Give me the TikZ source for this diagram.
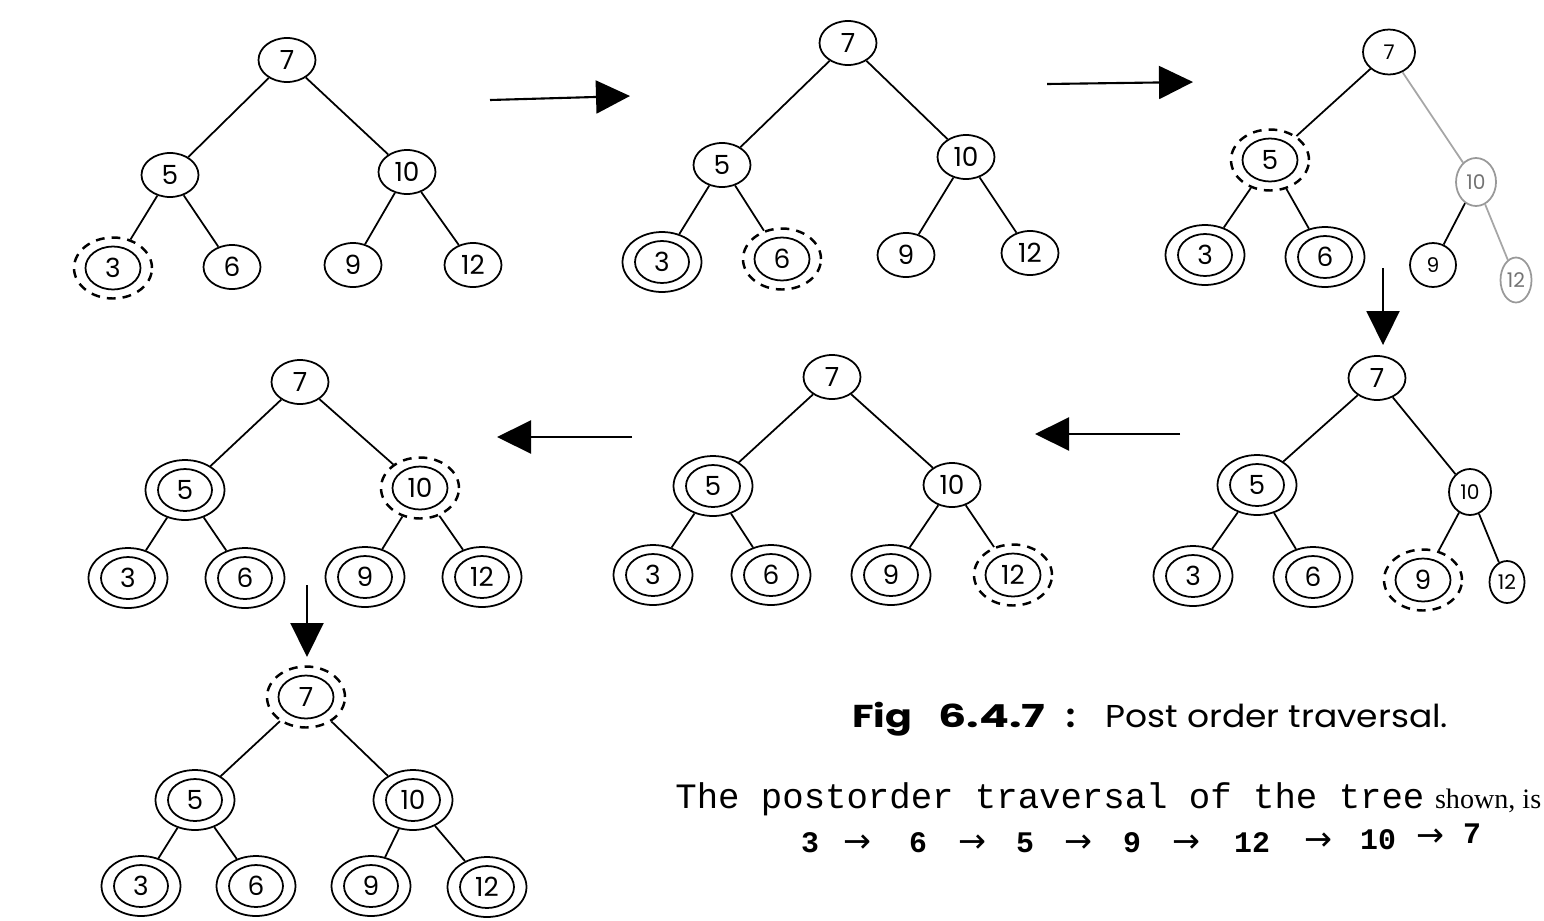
\documentclass[tikz,border=0pt]{standalone}
\usepackage{fontspec}
\setmainfont{Poppins}
\newfontfamily\monofont{Liberation Mono}
\newfontfamily\serifont{Liberation Serif}
\newfontfamily\arrowfont{DejaVu Sans}
\usetikzlibrary{shapes.geometric,arrows.meta}
\tikzset{
  nd/.style={ellipse, draw, line width=1pt, minimum width=1.14cm, minimum height=0.88cm,
    inner sep=0pt, font=\fontsize{15}{17}\selectfont},
  small/.style={nd, minimum width=#1, font=\fontsize{11.5}{13}\selectfont},
  done/.style={nd, minimum width=1.58cm, minimum height=1.2cm,
    path picture={\draw[solid,line width=1pt] (path picture bounding box.center) ellipse (0.54cm and 0.42cm);}},
  cur/.style={nd, dash pattern=on 5pt off 4pt, line width=1.4pt, minimum width=1.56cm, minimum height=1.22cm,
    path picture={\draw[solid,line width=1pt] (path picture bounding box.center) ellipse (0.55cm and 0.43cm);}},
  ed/.style={line width=1pt},
  faint/.style={draw=black!40, text=black!55},
  big/.style={line width=1.2pt, -{Triangle[length=0.68cm,width=0.66cm]}},
  num/.style={anchor=base, inner sep=0pt, font=\monofont\bfseries\fontsize{17}{19}\selectfont},
  arr/.style={anchor=base, inner sep=0pt, font=\arrowfont\fontsize{19}{21}\selectfont},
  captxt/.style={anchor=base west, inner sep=0pt},
}
\begin{document}
\begin{tikzpicture}[x=0.02cm, y=-0.02cm]
\useasboundingbox (0,0) rectangle (1544,920);
% ---------- tree a
\node[nd] (a7) at (287,60) {7};
\node[nd] (a5) at (170,175) {5};
\node[nd] (a10) at (407,172) {10};
\node[cur] (a3) at (113,268) {3};
\node[nd] (a6) at (232,267) {6};
\node[nd] (a9) at (353,265) {9};
\node[nd] (a12) at (473,265) {12};
\draw[ed] (a7)--(a5) (a7)--(a10) (a5)--(a3) (a5)--(a6) (a10)--(a9) (a10)--(a12);
% ---------- tree b
\node[nd] (b7) at (848,43) {7};
\node[nd] (b5) at (722,165) {5};
\node[nd] (b10) at (966,157) {10};
\node[done] (b3) at (662,262) {3};
\node[cur] (b6) at (782,259) {6};
\node[nd] (b9) at (906,255) {9};
\node[nd] (b12) at (1030,253) {12};
\draw[ed] (b7)--(b5) (b7)--(b10) (b5)--(b3) (b5)--(b6) (b10)--(b9) (b10)--(b12);
% ---------- tree c
\node[small=1.04cm, minimum height=0.9cm] (c7) at (1389,52) {7};
\node[cur] (c5) at (1270,160) {5};
\node[small=0.8cm, minimum height=0.96cm, faint] (c10) at (1476,182) {10};
\node[done] (c3) at (1205,255) {3};
\node[done] (c6) at (1325,257) {6};
\node[small=0.92cm, minimum height=0.88cm] (c9) at (1433,265) {9};
\node[small=0.62cm, minimum height=0.9cm, faint] (c12) at (1516,280) {12};
\draw[ed] (c7)--(c5) (c5)--(c3) (c5)--(c6) (c10)--(c9);
\draw[ed, black!35] (c7)--(c10) (c10)--(c12);
% ---------- tree d
\node[nd] (d7) at (1377,378) {7};
\node[done] (d5) at (1257,485) {5};
\node[small=0.84cm, minimum height=0.92cm] (d10) at (1470,492) {10};
\node[done] (d3) at (1193,576) {3};
\node[done] (d6) at (1313,577) {6};
\node[cur] (d9) at (1423,580) {9};
\node[small=0.7cm, minimum height=0.84cm] (d12) at (1507,582) {12};
\draw[ed] (d7)--(d5) (d7)--(d10) (d5)--(d3) (d5)--(d6) (d10)--(d9) (d10)--(d12);
% ---------- tree e
\node[nd] (e7) at (832,377) {7};
\node[done] (e5) at (713,486) {5};
\node[nd] (e10) at (952,485) {10};
\node[done] (e3) at (653,575) {3};
\node[done] (e6) at (771,575) {6};
\node[done] (e9) at (891,575) {9};
\node[cur] (e12) at (1013,575) {12};
\draw[ed] (e7)--(e5) (e7)--(e10) (e5)--(e3) (e5)--(e6) (e10)--(e9) (e10)--(e12);
% ---------- tree f
\node[nd] (f7) at (300,382) {7};
\node[done] (f5) at (185,490) {5};
\node[cur] (f10) at (420,488) {10};
\node[done] (f3) at (128,578) {3};
\node[done] (f6) at (245,578) {6};
\node[done] (f9) at (365,577) {9};
\node[done] (f12) at (482,577) {12};
\draw[ed] (f7)--(f5) (f7)--(f10) (f5)--(f3) (f5)--(f6) (f10)--(f9) (f10)--(f12);
% ---------- tree g
\node[cur] (g7) at (306,697) {7};
\node[done] (g5) at (195,800) {5};
\node[done] (g10) at (413,800) {10};
\node[done] (g3) at (141,886) {3};
\node[done] (g6) at (256,886) {6};
\node[done] (g9) at (371,886) {9};
\node[done] (g12) at (487,887) {12};
\draw[ed] (g7)--(g5) (g7)--(g10) (g5)--(g3) (g5)--(g6) (g10)--(g9) (g10)--(g12);
% ---------- arrows between steps
\coordinate (s1) at (490,100); \coordinate (t1) at (630,96);
\coordinate (s2) at (1047,84); \coordinate (t2) at (1193,82);
\coordinate (s3) at (1383,268); \coordinate (t3) at (1383,345);
\coordinate (s4) at (1180,434); \coordinate (t4) at (1035,434);
\coordinate (s5) at (632,437); \coordinate (t5) at (497,437);
\coordinate (s6) at (307,585); \coordinate (t6) at (307,657);
\draw[big] (s1)--(t1);
\draw[big] (s2)--(t2);
\draw[big] (s3)--(t3);
\draw[big] (s4)--(t4);
\draw[big] (s5)--(t5);
\draw[big] (s6)--(t6);
% ---------- caption and text
\node[captxt, font=\bfseries\fontsize{18}{20}\selectfont] (cap1) at (852,727) {\scalebox{1.25}[1]{Fig}};
\node[captxt, font=\bfseries\fontsize{18}{20}\selectfont] (cap2) at (938,727) {\scalebox{1.4}[1]{6.4.7}};
\node[captxt, font=\bfseries\fontsize{18}{20}\selectfont] (cap3) at (1066,727) {:};
\node[captxt, font=\fontsize{18}{20}\selectfont] (cap4) at (1105,727) {\scalebox{1.09}[1]{Post order traversal.}};
\node[captxt] (line2) at (675,808)
  {\monofont\fontsize{20.3}{22}\selectfont The postorder traversal of the tree\hspace{6pt}{\serifont\fontsize{16}{18}\selectfont shown, is}};
\node[num] (q1) at (810,852) {3};
\node[arr] (r1) at (857,852) {→};
\node[num] (q2) at (918,852) {6};
\node[arr] (r2) at (972,852) {→};
\node[num] (q3) at (1025,852) {5};
\node[arr] (r3) at (1078,852) {→};
\node[num] (q4) at (1132,852) {9};
\node[arr] (r4) at (1186,852) {→};
\node[num] (q5) at (1252,852) {12};
\node[arr] (r5) at (1318,850) {→};
\node[num] (q6) at (1378,849) {10};
\node[arr] (r6) at (1430,846) {→};
\node[num] (q7) at (1472,843) {7};
\end{tikzpicture}
\end{document}
